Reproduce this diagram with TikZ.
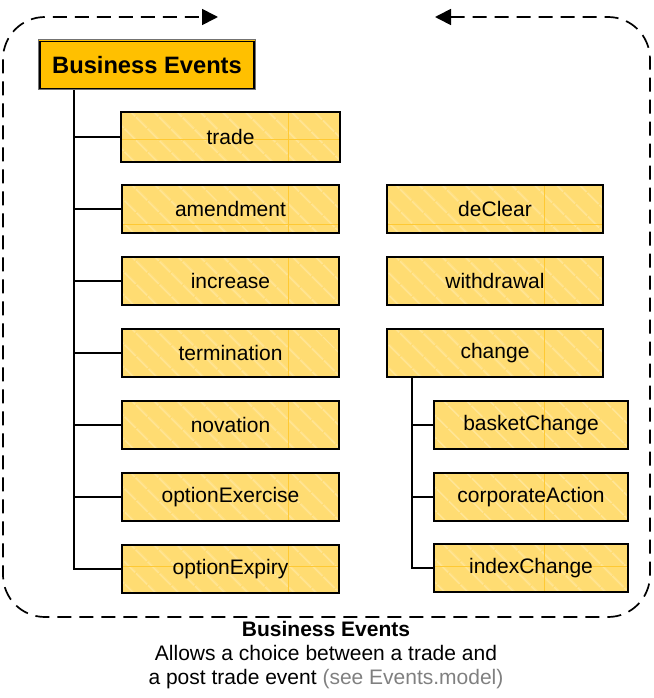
\documentclass[tikz,border=0pt]{standalone}
\usepackage{fontspec}
\setmainfont{Liberation Sans}
\usetikzlibrary{arrows.meta,patterns.meta}
\definecolor{boxfill}{HTML}{FFDC72}
\definecolor{hatchc}{HTML}{FFE595}
\definecolor{gridc}{HTML}{FFC933}
\definecolor{titlefill}{HTML}{FFC000}
\definecolor{capgray}{HTML}{808080}
\begin{document}
\begin{tikzpicture}[x=1pt,y=-1pt,
  evbox/.style={rectangle, preaction={fill=boxfill},
    pattern={Lines[angle=-45,distance=17pt,line width=2pt]}, pattern color=hatchc,
    minimum height=48pt, inner sep=0pt},
  leftbox/.style={evbox, minimum width=217pt},
  rightbox/.style={evbox, minimum width=216pt},
  subbox/.style={evbox, minimum width=194pt},
  boxborder/.style={draw=black, line width=1.5pt},
  gridline/.style={draw=gridc, line width=0.8pt},
  boxlabel/.style={inner sep=0pt, font=\fontsize{21}{25}\selectfont},
  conn/.style={draw=black, line width=1.5pt},
  frame/.style={draw=black, line width=1.7pt, dash pattern=on 14pt off 8pt},
  captext/.style={anchor=base, font=\fontsize{21}{25}\selectfont}]
\useasboundingbox (0,0) rectangle (653,698);

% title
\node[rectangle, fill=titlefill, draw=black!55, line width=1pt, minimum width=217pt,
      minimum height=50pt, inner sep=0pt, font=\bfseries\fontsize{23.7}{28}\selectfont]
      (title) at (147,65) {Business Events};
\draw[black, line width=1.2pt] ([shift={(2pt,2pt)}]title.south west) rectangle ([shift={(-2pt,-2pt)}]title.north east);

% left column
\node[leftbox] (trade) at (230.5,137) {};
\node[leftbox] (amend) at (230.5,209) {};
\node[leftbox] (incr) at (230.5,281) {};
\node[leftbox] (term) at (230.5,353) {};
\node[leftbox] (nova) at (230.5,425) {};
\node[leftbox] (opex) at (230.5,497) {};
\node[leftbox] (expiry) at (230.5,569) {};

% right column
\node[rightbox] (declear) at (495,209) {};
\node[rightbox] (withdr) at (495,281) {};
\node[rightbox] (change) at (495,353) {};
\node[subbox] (basket) at (531,425) {};
\node[subbox] (corp) at (531,497) {};
\node[subbox] (index) at (531,568) {};

% faint grid lines and borders
\foreach \n in {trade,amend,incr,term,nova,opex,expiry,declear,withdr,change,basket,corp,index}{
  \begin{scope}
    \clip ([shift={(0.75pt,0.75pt)}]\n.south west) rectangle ([shift={(-0.75pt,-0.75pt)}]\n.north east);
    \draw[gridline] (288,0) -- (288,698);
    \draw[gridline] (544,0) -- (544,698);
    \draw[gridline] (0,139) -- (653,139);
    \draw[gridline] (0,224) -- (653,224);
    \draw[gridline] (0,566) -- (653,566);
  \end{scope}
  \draw[boxborder] (\n.south west) rectangle (\n.north east);
}
% labels
\foreach \n/\t in {trade/trade,amend/amendment,incr/increase,term/termination,nova/novation,opex/optionExercise,expiry/optionExpiry,declear/deClear,withdr/withdrawal,change/change,basket/basketChange,corp/corporateAction,index/indexChange}{
  \node[boxlabel] (\n-lbl) at (\n.center) {\t};
}

% connectors
\coordinate (tx) at (74,0);
\foreach \n in {trade,amend,incr,term,nova,opex,expiry}
  \draw[conn] (title.south -| tx) |- (\n.west);
\coordinate (sx) at (412,0);
\foreach \n in {basket,corp,index}
  \draw[conn] (change.south -| sx) |- (\n.west);

% dashed frame
\coordinate (fa) at (435,17);
\coordinate (fb) at (218,17);
\draw[frame, {Triangle[length=16pt,width=16pt]}-{Triangle[length=16pt,width=16pt]}, rounded corners=42pt]
  (fa) -- (650,17) -- (650,617) -- (3,617) -- (3,17) -- (fb);

% caption
\node[captext, font=\bfseries\fontsize{21}{25}\selectfont] (cap1) at (326,636) {Business Events};
\node[captext] (cap2) at (326,660) {Allows a choice between a trade and};
\node[captext] (cap3) at (326,684) {a post trade event \textcolor{capgray}{(see Events.model)}};
\end{tikzpicture}
\end{document}
